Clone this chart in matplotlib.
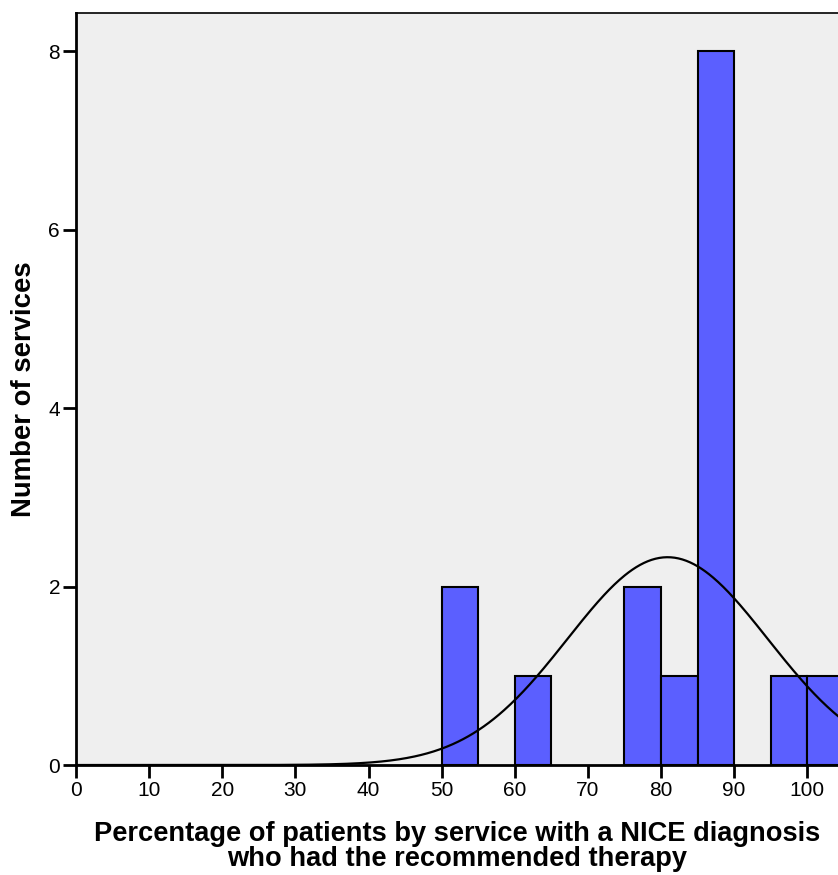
import numpy as np
import matplotlib
matplotlib.use('Agg')
import matplotlib.pyplot as plt

plt.rcParams['font.family'] = ['Liberation Sans', 'DejaVu Sans']

# histogram bins (left edge, width 5) and counts
bin_left = [50, 60, 75, 80, 85, 95, 100]
counts = [2, 1, 2, 1, 8, 1, 1]
bin_width = 5

# normal curve fitted by SPSS
mean_pct = 80.9
sd_pct = 13.7
n_services = sum(counts)

x_ticks = [0, 10, 20, 30, 40, 50, 60, 70, 80, 90, 100]
y_ticks = [0, 2, 4, 6, 8]

fig = plt.figure(figsize=(8.38, 8.75), dpi=100)
ax = fig.add_axes([0.0907, 0.1257, 0.9093, 0.8594])
ax.set_facecolor('#efefef')

ax.bar(bin_left, counts, width=bin_width, align='edge', color='#5b5fff',
       edgecolor='black', linewidth=1.5, zorder=2)

xs = np.linspace(0, 105, 600)
ys = n_services * bin_width / (sd_pct * np.sqrt(2 * np.pi)) * np.exp(-0.5 * ((xs - mean_pct) / sd_pct) ** 2)
ax.plot(xs, ys, color='black', linewidth=1.6, zorder=3)

ax.set_xlim(0, 104.2)
ax.set_ylim(0, 8.43)
ax.set_xticks(x_ticks)
ax.set_yticks(y_ticks)
ax.tick_params(axis='both', direction='out', length=9.5, width=2, labelsize=15, pad=2)

for s in ['left', 'bottom']:
    ax.spines[s].set_linewidth(2)
ax.spines['top'].set_linewidth(1.2)
ax.spines['right'].set_visible(False)

ax.set_xlabel('Percentage of patients by service with a NICE diagnosis\nwho had the recommended therapy',
              fontsize=19.6, fontweight='bold', labelpad=15, linespacing=0.98)
ax.set_ylabel('Number of services', fontsize=19.8, fontweight='bold', labelpad=8)

plt.savefig('out.png', dpi=100)
